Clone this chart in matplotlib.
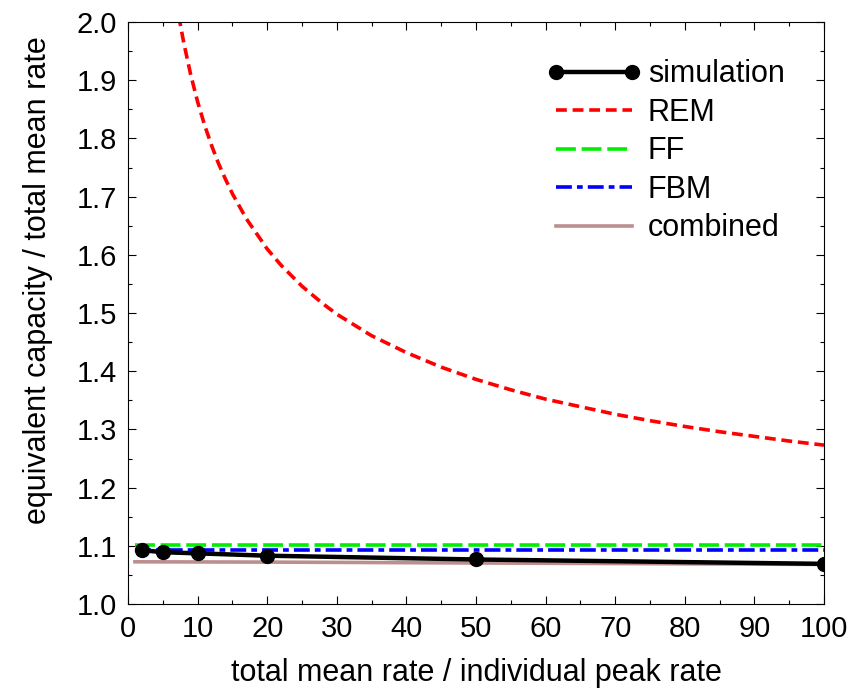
import matplotlib
matplotlib.use("Agg")
import matplotlib.pyplot as plt
from matplotlib.ticker import MultipleLocator

plt.rcParams['font.family'] = ['Liberation Sans', 'DejaVu Sans']

# values
sim_x = [2, 5, 10, 20, 50, 100]
sim_y = [1.0925, 1.089, 1.087, 1.083, 1.0765, 1.069]

rem_x = [5, 6, 7, 7.5, 8, 9, 10, 11, 12, 13, 14, 15, 17, 20, 22, 25, 28, 30, 35,
         40, 45, 50, 55, 60, 65, 70, 75, 80, 85, 90, 95, 100]
rem_y = [2.221, 2.115, 2.032, 1.997, 1.965, 1.910, 1.863, 1.823, 1.788, 1.757,
         1.730, 1.705, 1.662, 1.610, 1.582, 1.546, 1.516, 1.498, 1.461,
         1.432, 1.407, 1.386, 1.368, 1.352, 1.339, 1.326, 1.315, 1.305,
         1.296, 1.288, 1.280, 1.273]

ff_x = [1, 100]
ff_y = [1.101, 1.101]

fbm_x = [1, 100]
fbm_y = [1.092, 1.092]

comb_x = [1, 20, 50, 100]
comb_y = [1.0725, 1.072, 1.0705, 1.068]

fig = plt.figure(figsize=(8.63, 6.9), dpi=100)
ax = fig.add_axes([128 / 863, 86 / 690, 696 / 863, 582 / 690])

ax.plot(sim_x, sim_y, color='black', lw=3.2, marker='o', ms=10, label='simulation', zorder=5)
ax.plot(rem_x, rem_y, color='#ff0000', lw=2.6, dashes=(3.0, 1.6), label='REM')
ax.plot(ff_x, ff_y, color='#00ee00', lw=2.6, dashes=(5.5, 1.6), label='FF')
ax.plot(fbm_x, fbm_y, color='#0000ff', lw=2.6, dashes=(4.4, 1.4, 1.6, 1.4), label='FBM')
ax.plot(comb_x, comb_y, color='#bc8f8f', lw=2.6, label='combined', zorder=4)

ax.set_xlim(0, 100)
ax.set_ylim(1.0, 2.0)
ax.xaxis.set_major_locator(MultipleLocator(10))
ax.xaxis.set_minor_locator(MultipleLocator(5))
ax.yaxis.set_major_locator(MultipleLocator(0.1))
ax.yaxis.set_minor_locator(MultipleLocator(0.05))
ax.tick_params(which='both', direction='in', top=True, right=True, labelsize=21, pad=8)
ax.tick_params(which='major', length=5.8, width=0.8)
ax.tick_params(which='minor', length=2.9, width=0.8)
ax.yaxis.set_major_formatter(plt.FuncFormatter(lambda v, p: '%.1f' % v))
for s in ax.spines.values():
    s.set_linewidth(0.8)

ax.set_xlabel('total mean rate / individual peak rate', fontsize=22, labelpad=11)
ax.set_ylabel('equivalent capacity / total mean rate', fontsize=22, labelpad=17)
ax.yaxis.label.set_y(0.557)

ax.legend(loc='upper right', frameon=False, fontsize=22, handlelength=3.1,
          handletextpad=0.2, labelspacing=0.28, borderaxespad=0.0,
          numpoints=2, bbox_to_anchor=(0.961, 0.957))

fig.savefig('out.png', dpi=100)
